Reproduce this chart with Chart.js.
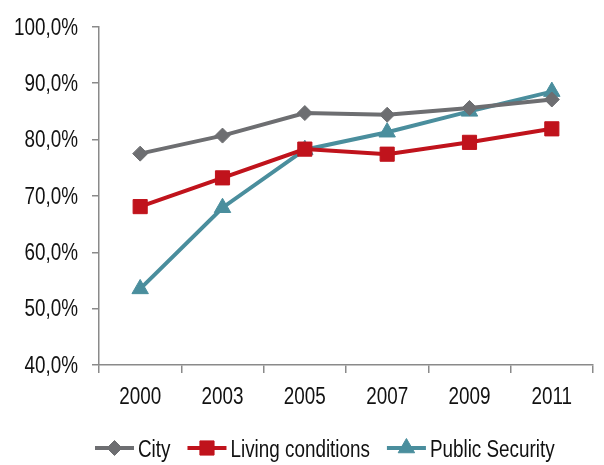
<!DOCTYPE html>
<html>
<head>
<meta charset="utf-8">
<title>Satisfaction by year</title>
<script src="https://cdn.jsdelivr.net/npm/chart.js@4/dist/chart.umd.min.js"></script>
<style>
  html, body { margin: 0; padding: 0; background: #ffffff; }
</style>
</head>
<body>
<canvas id="chart" width="604" height="465"></canvas>
<script>
// Survey years on the horizontal axis
const years = ['2000', '2003', '2005', '2007', '2009', '2011'];

// Share of satisfied respondents, in percent
const cityValues = [77.5, 80.7, 84.7, 84.4, 85.6, 87.1];
const livingValues = [68.1, 73.2, 78.3, 77.4, 79.5, 81.9];
const securityValues = [53.5, 67.9, 78.2, 81.3, 85.0, 88.5];

// Vertical axis range
const yMin = 40;
const yMax = 100;
const yStep = 10;

const FONT = '"Liberation Sans", Arial, sans-serif';
const FONT_SIZE = 23;
const NARROW = 0.82;          // horizontal squeeze giving a narrow face
const TEXT_COLOR = '#111111';
const AXIS_GREY = '#8a8a8a';

const COLORS = {
  city: '#6d6e71',
  living: '#c0131c',
  security: '#4a8e9d'
};

const formatPercent = v => v.toFixed(1).replace('.', ',') + '%';

// Draws a condensed string; align is 'left', 'right' or 'center'
function narrowText(ctx, text, x, y, align) {
  ctx.save();
  ctx.font = FONT_SIZE + 'px ' + FONT;
  ctx.fillStyle = TEXT_COLOR;
  ctx.textBaseline = 'middle';
  ctx.textAlign = align;
  ctx.translate(x, y);
  ctx.scale(NARROW, 1);
  ctx.fillText(text, 0, 0);
  const w = ctx.measureText(text).width * NARROW;
  ctx.restore();
  return w;
}

function drawMarker(ctx, style, radius, x, y, color) {
  ctx.save();
  ctx.fillStyle = color;
  ctx.strokeStyle = color;
  ctx.lineWidth = 1;
  Chart.helpers.drawPoint(ctx, { pointStyle: style, rotation: 0, borderWidth: 1, radius: radius }, x, y);
  ctx.restore();
}

// Axis labels in the condensed face
const narrowTicks = {
  id: 'narrowTicks',
  afterDraw(chart) {
    const ctx = chart.ctx;
    const xs = chart.scales.x;
    const ys = chart.scales.y;
    ys.ticks.forEach(t => {
      narrowText(ctx, formatPercent(t.value), 78, ys.getPixelForValue(t.value) + 1.5, 'right');
    });
    xs.ticks.forEach((t, i) => {
      narrowText(ctx, xs.getLabelForValue(t.value), xs.getPixelForTick(i), 398, 'center');
    });
  }
};

// Legend drawn as line + marker samples underneath the plot
const lineLegend = {
  id: 'lineLegend',
  afterDraw(chart) {
    const ctx = chart.ctx;
    const y = 448;
    let x = 95;
    chart.data.datasets.forEach(ds => {
      const lineLen = 39;
      ctx.save();
      ctx.strokeStyle = ds.borderColor;
      ctx.lineWidth = 4;
      ctx.beginPath();
      ctx.moveTo(x, y);
      ctx.lineTo(x + lineLen, y);
      ctx.stroke();
      ctx.restore();
      drawMarker(ctx, ds.pointStyle, ds.pointRadius, x + lineLen / 2, y, ds.borderColor);
      const w = narrowText(ctx, ds.label, x + lineLen + 4, y + 3, 'left');
      x += lineLen + 4 + w + 17;
    });
  }
};

new Chart(document.getElementById('chart'), {
  type: 'line',
  data: {
    labels: years,
    datasets: [
      {
        label: 'City',
        data: cityValues,
        borderColor: COLORS.city,
        backgroundColor: COLORS.city,
        pointStyle: 'rectRot',
        pointRadius: 7.5
      },
      {
        label: 'Living conditions',
        data: livingValues,
        borderColor: COLORS.living,
        backgroundColor: COLORS.living,
        pointStyle: 'rect',
        pointRadius: 10
      },
      {
        label: 'Public Security',
        data: securityValues,
        borderColor: COLORS.security,
        backgroundColor: COLORS.security,
        pointStyle: 'triangle',
        pointRadius: 9.5
      }
    ]
  },
  options: {
    responsive: false,
    animation: false,
    devicePixelRatio: 1,
    layout: { padding: { left: 0, right: 5, top: 25, bottom: 0 } },
    elements: {
      line: { borderWidth: 4, tension: 0 },
      point: { borderWidth: 1, hoverRadius: 8 }
    },
    plugins: {
      legend: { display: false },
      tooltip: { enabled: false }
    },
    scales: {
      x: {
        offset: true,
        grid: {
          offset: true,
          drawOnChartArea: false,
          drawTicks: true,
          tickLength: 8,
          color: AXIS_GREY,
          lineWidth: 1.5
        },
        border: { color: AXIS_GREY, width: 1.5 },
        ticks: {
          color: 'rgba(0,0,0,0)',
          font: { family: FONT, size: FONT_SIZE },
          padding: 8,
          maxRotation: 0
        },
        afterFit(scale) { scale.height = 100; }
      },
      y: {
        min: yMin,
        max: yMax,
        ticks: {
          stepSize: yStep,
          color: 'rgba(0,0,0,0)',
          font: { family: FONT, size: FONT_SIZE },
          padding: 13,
          callback: formatPercent
        },
        grid: {
          drawOnChartArea: false,
          drawTicks: true,
          tickLength: 7,
          color: AXIS_GREY,
          lineWidth: 1.5
        },
        border: { color: AXIS_GREY, width: 1.5 },
        afterFit(scale) { scale.width = 99; }
      }
    }
  },
  plugins: [narrowTicks, lineLegend]
});
</script>
</body>
</html>
